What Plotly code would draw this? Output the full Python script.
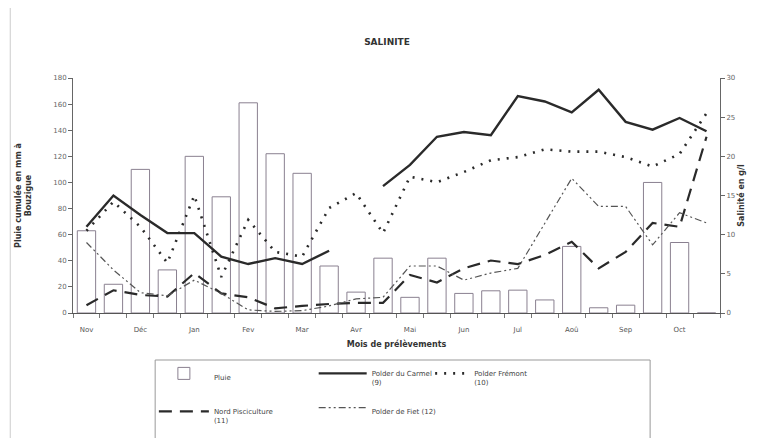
import plotly.graph_objects as go

# %%
# 24 prélèvements (2 par mois), de novembre à octobre
slots = list(range(1, 25))
mois = ["Nov", "Déc", "Jan", "Fev", "Mar", "Avr", "Mai", "Jun", "Jul", "Aoû", "Sep", "Oct"]
mois_pos = [1, 3, 5, 7, 9, 11, 13, 15, 17, 19, 21, 23]

pluie = [63, 22, 110, 33, 120, 89, 161, 122, 107, 36, 16, 42,
         12, 42, 15, 17, 17.5, 10, 51, 4, 6, 100, 54, 0]

carmel = [11, 15, 12.5, 10.2, 10.2, 7.2, 6.25, 7, 6.25, 7.95, None, 16.2,
          18.9, 22.5, 23.1, 22.7, 27.7, 27, 25.6, 28.5, 24.4, 23.4, 24.9, 23.2]
fremont = [10.5, 14.2, 11, 6.4, 15, 4.6, 11.9, 7.8, 7.2, 13.4, 15.3, 10.2,
           17.4, 16.7, 18, 19.5, 19.9, 20.9, 20.6, 20.6, 19.9, 18.7, 20.3, 25.5]
nord = [1, 2.9, 2.3, 2.1, 5.1, 2.5, 2, 0.6, 0.9, 1.15, 1.3, 1.3,
        4.85, 3.9, 5.7, 6.7, 6.25, 7.4, 9.1, 5.7, 7.8, 11.5, 11, 22.5]
fiet = [9, 5.5, 2.6, 2.2, 4.2, 2.5, 0.4, 0.2, 0.3, 0.9, 1.8, 2,
        6, 6, 4.2, 5.1, 5.7, 11.5, 17.2, 13.6, 13.6, 8.7, 12.8, 11.5]

# %%
ink = "#2a2a2a"
font = dict(family="DejaVu Sans", size=8, color="#444")

fig = go.Figure()
fig.add_trace(go.Bar(
    x=slots, y=pluie, name="Pluie", width=0.68, legend="legend", legendgroup="a",
    marker=dict(color="white", line=dict(color="#8a8090", width=1)),
))
fig.add_trace(go.Scatter(
    x=slots, y=carmel, name="Polder du Carmel<br>(9)", yaxis="y2",
    legend="legend2", legendgroup="b",
    mode="lines", line=dict(color=ink, width=2.4),
))
fig.add_trace(go.Scatter(
    x=slots, y=fremont, name="Polder Frémont<br>(10)", yaxis="y2",
    legend="legend3", legendgroup="c",
    mode="lines", line=dict(color=ink, width=2.6, dash="2px,7px"),
))
fig.add_trace(go.Scatter(
    x=slots, y=nord, name="Nord Pisciculture<br>(11)", yaxis="y2",
    legend="legend", legendgroup="d",
    mode="lines", line=dict(color=ink, width=2.2, dash="13px,8px"),
))
fig.add_trace(go.Scatter(
    x=slots, y=fiet, name="Polder de Fiet (12)", yaxis="y2",
    legend="legend2", legendgroup="e",
    mode="lines", line=dict(color="#555", width=1.2, dash="7px,3px,2px,3px,2px,3px"),
))

leg = dict(orientation="v", y=-0.21, yanchor="top", xanchor="left",
           bgcolor="rgba(0,0,0,0)", borderwidth=0, valign="top",
           font=dict(size=7, color="#444"), traceorder="grouped")

# the page body adds 8px around the figure, margins account for it
fig.update_layout(
    width=758, height=438,
    margin=dict(l=65, r=46, t=70, b=133, autoexpand=False),
    paper_bgcolor="white", plot_bgcolor="white",
    font=font,
    showlegend=True,
    title=dict(text="<b>SALINITE</b>", x=0.5, xanchor="center", y=0.93,
               font=dict(family="DejaVu Sans", size=9, color="#333")),
    xaxis=dict(
        range=[0.5, 24.5], tickvals=mois_pos, ticktext=mois, ticks="",
        showline=True, linecolor="#555", linewidth=1.2, showgrid=False, zeroline=False,
        tickfont=dict(size=7, color="#555"), ticklabelstandoff=9, automargin=False,
        minor=dict(tick0=0.5, dtick=1, ticks="outside", ticklen=4, tickcolor="#777"),
        title=dict(text="<b>Mois de prélèvements</b>", standoff=8,
                   font=dict(size=8, color="#333")),
    ),
    yaxis=dict(
        range=[0, 180], dtick=20, ticks="outside", ticklen=4, tickcolor="#666",
        showline=True, linecolor="#666", showgrid=False, zeroline=False,
        tickfont=dict(size=7, color="#666"), automargin=False,
        title=dict(text="<b>Pluie cumulée en mm à<br>Bouzigue</b>", standoff=20,
                   font=dict(size=8, color="#333")),
    ),
    yaxis2=dict(
        range=[0, 30], dtick=5, overlaying="y", side="right", ticks="outside",
        ticklen=4, tickcolor="#666", showline=True, linecolor="#666",
        showgrid=False, zeroline=False, tickfont=dict(size=7, color="#666"),
        automargin=False,
        title=dict(text="<b>Salinité en g/l</b>", standoff=4,
                   font=dict(size=8, color="#333")),
    ),
    legend=dict(leg, x=0.125, itemwidth=50, tracegroupgap=19),
    legend2=dict(leg, x=0.372, itemwidth=48, tracegroupgap=13),
    legend3=dict(leg, x=0.552, itemwidth=34),
)
# cadre de la légende et trait du cadre à gauche
fig.add_shape(type="rect", xref="paper", yref="paper", x0=0.127, x1=0.892,
              y0=-0.58, y1=-0.2, line=dict(color="#999", width=1), fillcolor="white",
              layer="below")
fig.add_shape(type="line", xref="paper", yref="paper", x0=-0.097, x1=-0.097,
              y0=-0.55, y1=1.3, line=dict(color="#ccc", width=1))

fig.write_html("out.html")
